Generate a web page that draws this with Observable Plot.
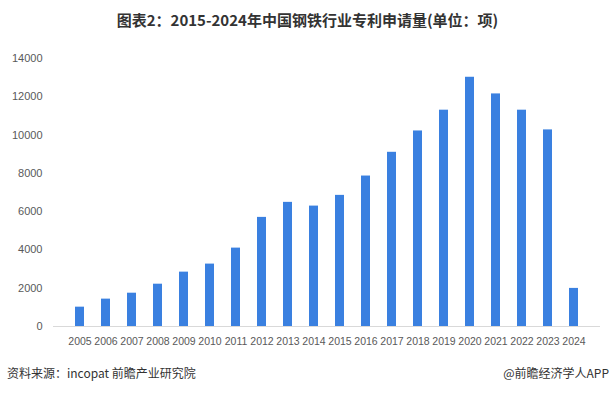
<!DOCTYPE html>
<html>
<head>
<meta charset="utf-8">
<script src="https://cdn.jsdelivr.net/npm/d3@7"></script>
<script src="https://cdn.jsdelivr.net/npm/@observablehq/plot@0.6"></script>
<style>
  html, body { margin: 0; padding: 0; background: #fff; }
  body { width: 615px; height: 394px; overflow: hidden; font-family: "Noto Sans CJK SC", "Microsoft YaHei", sans-serif; }
  #title { height: 38px; line-height: 40px; text-align: center; font-size: 15px; font-weight: bold; color: #333; }
  #chart { height: 318px; }
  #footer { position: relative; height: 38px; font-size: 12px; color: #333; }
  #footer .l { position: absolute; left: 7px; top: 8px; }
  #footer .r { position: absolute; right: 6px; top: 8px; }
</style>
</head>
<body>
<div id="title">图表2：2015-2024年中国钢铁行业专利申请量(单位：项)</div>
<div id="chart"></div>
<div id="footer"><span class="l">资料来源：incopat 前瞻产业研究院</span><span class="r">@前瞻经济学人APP</span></div>
<script>
const years = ["2005","2006","2007","2008","2009","2010","2011","2012","2013","2014","2015","2016","2017","2018","2019","2020","2021","2022","2023","2024"];
const counts = [1010, 1430, 1740, 2210, 2840, 3260, 4095, 5700, 6485, 6290, 6850, 7860, 9100, 10215, 11300, 13020, 12150, 11300, 10270, 1990];
const yTicks = [0, 2000, 4000, 6000, 8000, 10000, 12000, 14000];

const data = years.map((y, i) => ({year: y, value: counts[i]}));

const chart = Plot.plot({
  width: 615,
  height: 318,
  marginTop: 20,
  marginBottom: 30,
  marginLeft: 53,
  marginRight: 15,
  style: {fontFamily: "'Liberation Sans', Arial, sans-serif", fontSize: "11px", color: "#595959", background: "#fff"},
  x: {domain: years, padding: 0.67, label: null, tickSize: 0, tickPadding: 11},
  y: {domain: [0, 14000], ticks: yTicks, label: null, tickSize: 0, tickPadding: 11, tickFormat: d => String(d)},
  marks: [
    Plot.barY(data, {x: "year", y: "value", fill: "#3a80e0"}),
    Plot.ruleY([0], {stroke: "#d9d9d9", strokeWidth: 1}),
    Plot.axisX({fontSize: 10.5, tickSize: 0, tickPadding: 11, label: null})
  ]
});
document.getElementById("chart").appendChild(chart);
</script>
</body>
</html>
